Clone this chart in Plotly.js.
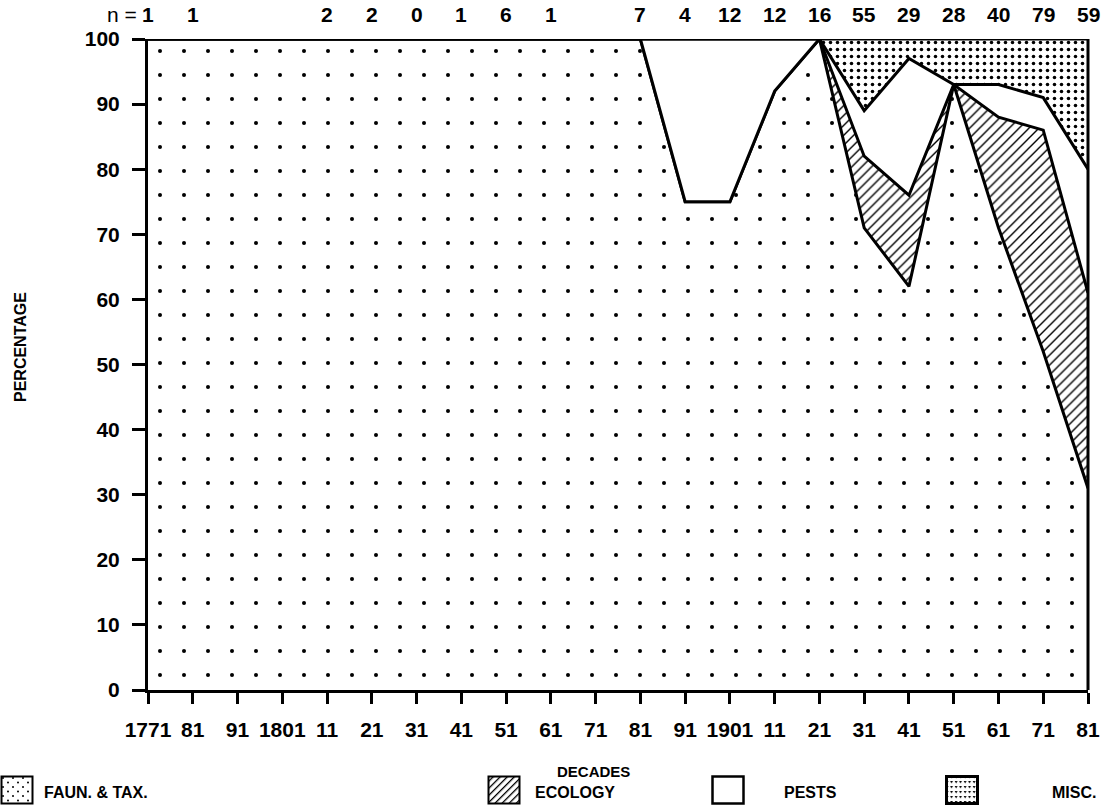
<!DOCTYPE html>
<html>
<head>
<meta charset="utf-8">
<script src="https://cdn.plot.ly/plotly-3.0.1.min.js"></script>
<style>
  html, body { margin: 0; padding: 0; background: #fff; }
  #chart { width: 1112px; height: 806px; }
</style>
</head>
<body>
<div id="chart"></div>
<script>
// Decades of publication and their axis labels
const decades = [1771, 1781, 1791, 1801, 1811, 1821, 1831, 1841, 1851, 1861, 1871,
                 1881, 1891, 1901, 1911, 1921, 1931, 1941, 1951, 1961, 1971, 1981];
const decadeLabels = ['1771', '81', '91', '1801', '11', '21', '31', '41', '51', '61', '71',
                      '81', '91', '1901', '11', '21', '31', '41', '51', '61', '71', '81'];

// Number of papers per decade (null = no count printed)
const paperCounts = [1, 1, null, null, 2, 2, 0, 1, 6, 1, null,
                     7, 4, 12, 12, 16, 55, 29, 28, 40, 79, 59];

// Share of papers per subject (percent), stacked bottom to top
const faunTax = [100, 100, 100, 100, 100, 100, 100, 100, 100, 100, 100,
                 100, 75, 75, 92, 100, 71, 62, 93, 71, 52, 31];
const ecology = [0, 0, 0, 0, 0, 0, 0, 0, 0, 0, 0,
                 0, 0, 0, 0, 0, 11, 14, 0, 17, 34, 30];
const pests   = [0, 0, 0, 0, 0, 0, 0, 0, 0, 0, 0,
                 0, 25, 25, 8, 0, 7, 21, 0, 5, 5, 19];
const misc    = [0, 0, 0, 0, 0, 0, 0, 0, 0, 0, 0,
                 0, 0, 0, 0, 0, 11, 3, 7, 7, 9, 20];

const seriesNames = ['FAUN. &amp; TAX.', 'ECOLOGY', 'PESTS', 'MISC.'];

const FONT = 'Liberation Sans, Arial, Helvetica, sans-serif';
const edge = { color: '#000', width: 3, shape: 'linear' };

// Fill textures for each subject
const textures = [
  { shape: '.', size: 24, solidity: 0.022, fgcolor: '#000', bgcolor: '#fff', fgopacity: 1 },
  { shape: '/', size: 7, solidity: 0.2, fgcolor: '#000', bgcolor: '#fff', fgopacity: 1 },
  null,
  { shape: '.', size: 7, solidity: 0.2, fgcolor: '#000', bgcolor: '#fff', fgopacity: 1 }
];

function layer(y, i) {
  const t = {
    x: decades, y: y, name: seriesNames[i], type: 'scatter', mode: 'lines',
    stackgroup: 'share', line: edge, hoverinfo: 'skip', showlegend: false
  };
  if (textures[i]) t.fillpattern = textures[i];
  else t.fillcolor = '#fff';
  return t;
}

const traces = [faunTax, ecology, pests, misc].map(layer);

// Plot area in pixels (used to place key items in paper units)
const M = { l: 148, r: 24, t: 39, b: 116 };
const PW = 1112 - M.l - M.r, PH = 806 - M.t - M.b;
const px = v => (v - M.l) / PW;
const py = v => (806 - M.b - v) / PH;

// Counts printed above each decade
const annotations = [];
decades.forEach((d, i) => {
  if (paperCounts[i] === null) return;
  annotations.push({
    x: d, y: py(15), xref: 'x', yref: 'paper', text: String(paperCounts[i]),
    showarrow: false, xanchor: 'center', yanchor: 'middle',
    font: { family: FONT, size: 21, weight: 'bold', color: '#000' }
  });
});
annotations.push({
  x: px(139), y: py(15), xref: 'paper', yref: 'paper', text: 'n =',
  showarrow: false, xanchor: 'right', yanchor: 'middle',
  font: { family: FONT, size: 21, color: '#000' }
});
annotations.push({
  x: px(593), y: py(771), xref: 'paper', yref: 'paper', text: 'DECADES',
  showarrow: false, xanchor: 'center', yanchor: 'middle',
  font: { family: FONT, size: 15, weight: 'bold', color: '#000' }
});
annotations.push({
  x: px(20), y: py(347), xref: 'paper', yref: 'paper', text: 'PERCENTAGE',
  showarrow: false, textangle: -90, xanchor: 'center', yanchor: 'middle',
  font: { family: FONT, size: 16, weight: 'bold', color: '#000' }
});

// Key: swatch images drawn as small SVGs, labels as text
function swatch(inner, border) {
  const svg = '<svg xmlns="http://www.w3.org/2000/svg" width="34" height="30" viewBox="0 0 34 30">' +
    '<defs>' +
    '<pattern id="d" width="10" height="9" patternUnits="userSpaceOnUse">' +
    '<circle cx="3" cy="3" r="1" fill="#000"/><circle cx="8" cy="7.5" r="1" fill="#000"/></pattern>' +
    '<pattern id="h" width="5" height="5" patternUnits="userSpaceOnUse" patternTransform="rotate(45)">' +
    '<rect x="0" y="0" width="1.3" height="5" fill="#000"/></pattern>' +
    '<pattern id="m" width="4.5" height="5" patternUnits="userSpaceOnUse">' +
    '<path d="M0.7,1 L3.5,1 L2.1,3.6 Z" fill="#000"/></pattern>' +
    '</defs>' +
    '<rect x="1.5" y="1.5" width="31" height="27" fill="#fff"/>' +
    (inner ? '<rect x="1.5" y="1.5" width="31" height="27" fill="url(#' + inner + ')"/>' : '') +
    '<rect x="1.5" y="1.5" width="31" height="27" fill="none" stroke="#000" stroke-width="' + border + '"/>' +
    '</svg>';
  return 'data:image/svg+xml;charset=utf-8,' + encodeURIComponent(svg);
}

const keyItems = [
  { box: 0,   text: 42,   fill: 'd', border: 2 },
  { box: 487, text: 533,  fill: 'h', border: 2 },
  { box: 711, text: 782,  fill: null, border: 2.5 },
  { box: 945, text: 1050, fill: 'm', border: 3 }
];
const images = keyItems.map(k => ({
  source: swatch(k.fill, k.border), xref: 'paper', yref: 'paper',
  x: px(k.box), y: py(775), sizex: 34 / PW, sizey: 30 / PH,
  xanchor: 'left', yanchor: 'top', sizing: 'stretch', layer: 'above'
}));
keyItems.forEach((k, i) => {
  annotations.push({
    x: px(k.text), y: py(792), xref: 'paper', yref: 'paper', text: seriesNames[i],
    showarrow: false, xanchor: 'left', yanchor: 'middle',
    font: { family: FONT, size: 16, weight: 'bold', color: '#000' }
  });
});

const layout = {
  width: 1112, height: 806,
  margin: { l: M.l, r: M.r, t: M.t, b: M.b, pad: 0 },
  paper_bgcolor: '#fff', plot_bgcolor: '#fff',
  hovermode: false,
  showlegend: false,
  xaxis: {
    range: [1771, 1981], tickmode: 'array', tickvals: decades, ticktext: decadeLabels,
    showgrid: false, zeroline: false, showline: true, linecolor: '#000', linewidth: 3,
    ticks: 'outside', ticklen: 11, tickwidth: 3, tickcolor: '#000',
    ticklabelstandoff: 8,
    tickfont: { family: FONT, size: 21, weight: 'bold', color: '#000' }
  },
  yaxis: {
    range: [0, 100], tickmode: 'linear', tick0: 0, dtick: 10,
    showgrid: false, zeroline: false, showline: true, linecolor: '#000', linewidth: 3,
    ticks: 'outside', ticklen: 13, tickwidth: 3, tickcolor: '#000',
    ticklabelstandoff: 8,
    tickfont: { family: FONT, size: 21, weight: 'bold', color: '#000' }
  },
  shapes: [{
    type: 'line', xref: 'paper', yref: 'paper', x0: 1, x1: 1, y0: 0, y1: 1,
    line: { color: '#000', width: 3 }
  }],
  images: images,
  annotations: annotations
};

Plotly.newPlot('chart', traces, layout, { displayModeBar: false, staticPlot: true });
</script>
</body>
</html>
